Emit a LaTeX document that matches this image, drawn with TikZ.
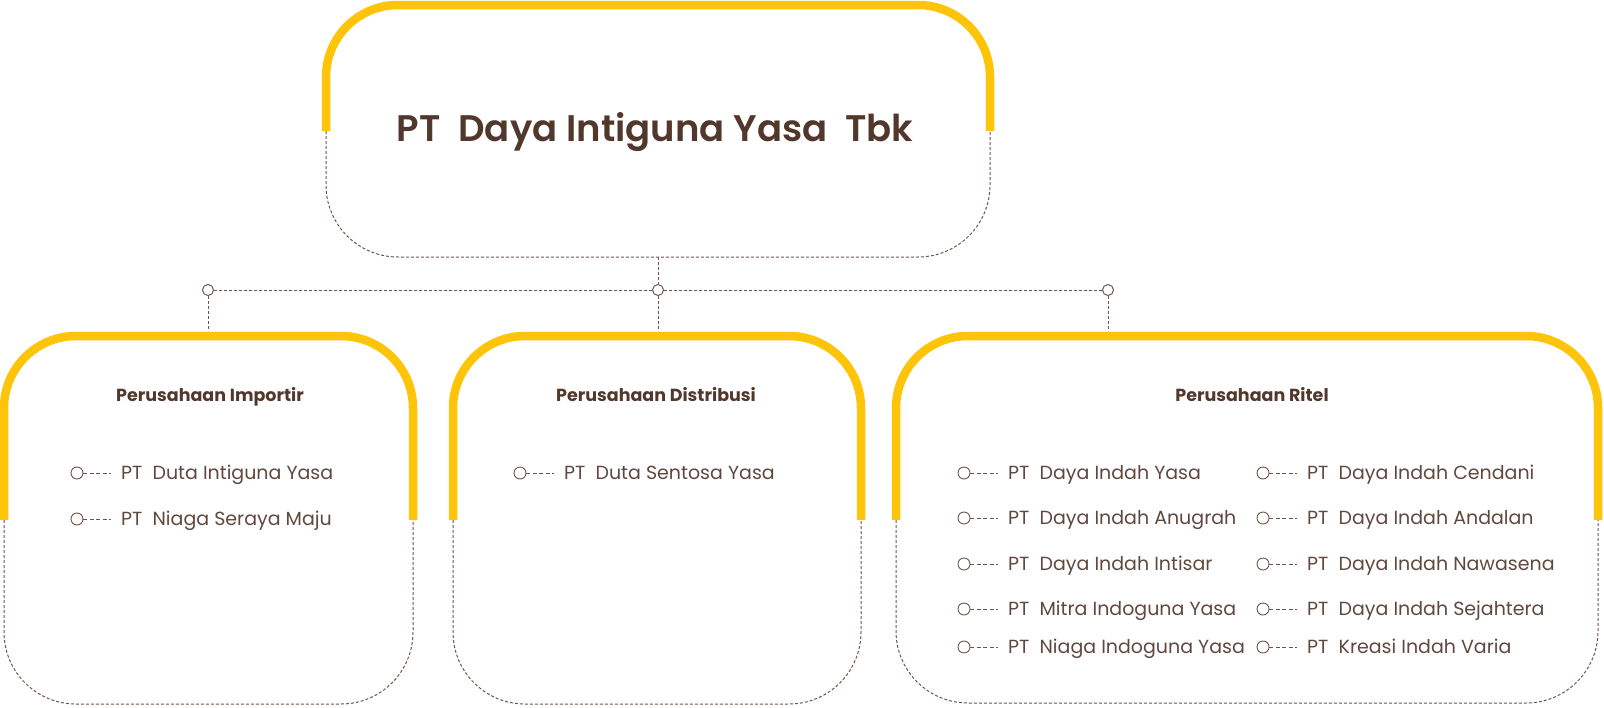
\documentclass[tikz,border=0pt]{standalone}
\usepackage{fontspec}
\setmainfont{Poppins}
\newfontfamily\semib{Poppins SemiBold}
\definecolor{yel}{RGB}{254,196,10}
\definecolor{brn}{RGB}{82,56,44}
\definecolor{itx}{RGB}{96,72,62}
\definecolor{lnc}{RGB}{110,86,76}
\tikzset{
  yband/.style={draw=yel, line width=8.5pt, rounded corners=72pt},
  dband/.style={draw=lnc, line width=1pt, dash pattern=on 3pt off 2pt, rounded corners=72pt},
  conn/.style={draw=lnc, line width=1pt, dash pattern=on 3pt off 2pt},
  ring/.style={circle, draw=lnc, fill=white, line width=1pt, minimum size=11pt, inner sep=0pt},
  iring/.style={circle, draw=lnc, fill=white, line width=0.9pt, minimum size=12pt, inner sep=0pt},
  stub/.style={draw=lnc, line width=1pt, dash pattern=on 4pt off 2.5pt},
  itxt/.style={anchor=west, inner sep=0pt, text=itx, text height=13.3pt, text depth=0pt, font=\fontsize{19}{22}\selectfont},
  head/.style={text=brn, inner sep=0pt, text height=12.3pt, text depth=0pt, font=\bfseries\fontsize{17.5}{20}\selectfont},
  ttl/.style={text=brn, inner sep=0pt, text height=26pt, text depth=0pt, font=\semib\fontsize{37}{44}\selectfont},
}
\newcommand\itm[4]{%
  \node[iring] (#1c) at (#2,#3) {};
  \node[itxt] (#1t) at (#2+44,#3) {#4};
  \draw[stub] (#1c.east) -- ([xshift=-10pt]#1t.west);
}
\begin{document}
\begin{tikzpicture}[x=1pt,y=-1pt]
\useasboundingbox (0,0) rectangle (1604,707);
% top box
\draw[yband] (326,131) -- (326,5) -- (990,5) -- (990,131);
\draw[dband] (326,131) -- (326,257) -- (990,257) -- (990,131);
\node[ttl] (title) at (655,128) {PT\ \ Daya Intiguna Yasa\ \ Tbk};
% lower boxes
\draw[yband] (4,520) -- (4,336) -- (413,336) -- (413,520);
\draw[dband] (4,520) -- (4,704) -- (413,704) -- (413,520);
\draw[yband] (453,520) -- (453,336) -- (861,336) -- (861,520);
\draw[dband] (453,520) -- (453,704) -- (861,704) -- (861,520);
\draw[yband] (896,520) -- (896,336) -- (1598,336) -- (1598,520);
\draw[dband] (896,520) -- (896,703) -- (1598,703) -- (1598,520);
\node[head] (h1) at (210,395) {Perusahaan Importir};
\node[head] (h2) at (656,395) {Perusahaan Distribusi};
\node[head] (h3) at (1252,395) {Perusahaan Ritel};
% connectors
\coordinate (tb) at (658,257);
\coordinate (b1) at (208,331);
\coordinate (b2) at (658,331);
\coordinate (b3) at (1108,331);
\node[ring] (j1) at (208,290) {};
\node[ring] (j2) at (658,290) {};
\node[ring] (j3) at (1108,290) {};
\draw[conn] (tb) -- (j2);
\draw[conn] (j1) -- (j2);
\draw[conn] (j2) -- (j3);
\draw[conn] (j1) -- (b1);
\draw[conn] (j2) -- (b2);
\draw[conn] (j3) -- (b3);
% items
\itm{a}{77}{473}{PT\ \ Duta Intiguna Yasa}
\itm{b}{77}{519}{PT\ \ Niaga Seraya Maju}
\itm{c}{520}{473}{PT\ \ Duta Sentosa Yasa}
\itm{d}{964}{473}{PT\ \ Daya Indah Yasa}
\itm{e}{964}{518}{PT\ \ Daya Indah Anugrah}
\itm{f}{964}{564}{PT\ \ Daya Indah Intisar}
\itm{g}{964}{609}{PT\ \ Mitra Indoguna Yasa}
\itm{h}{964}{647}{PT\ \ Niaga Indoguna Yasa}
\itm{i}{1263}{473}{PT\ \ Daya Indah Cendani}
\itm{k}{1263}{518}{PT\ \ Daya Indah Andalan}
\itm{l}{1263}{564}{PT\ \ Daya Indah Nawasena}
\itm{m}{1263}{609}{PT\ \ Daya Indah Sejahtera}
\itm{n}{1263}{647}{PT\ \ Kreasi Indah Varia}
\end{tikzpicture}
\end{document}
